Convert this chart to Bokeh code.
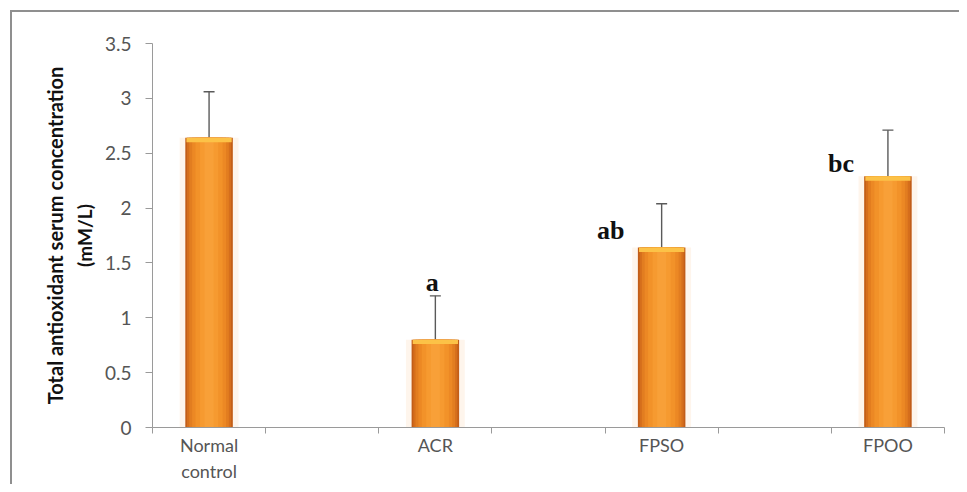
from bokeh.plotting import figure
from bokeh.models import (ColumnDataSource, Whisker, TeeHead, FixedTicker, Range1d,
                          LinearAxis, InlineStyleSheet)
from bokeh.core.properties import value
from bokeh.embed import file_html
from bokeh.resources import INLINE

categories = ["Normal\ncontrol", "ACR", "FPSO", "FPOO"]
means = [2.64, 0.80, 1.64, 2.29]
errors = [0.42, 0.40, 0.40, 0.42]
sig_labels = ["", "a", "ab", "bc"]
y_ticks = [0, 0.5, 1, 1.5, 2, 2.5, 3, 3.5]
y_tick_labels = ["0", "0.5", "1", "1.5", "2", "2.5", "3", "3.5"]

# category slots: each group occupies 2 slots (bar + empty gap), last gap dropped
xs = [2 * i + 0.5 for i in range(len(categories))]
n_slots = 2 * len(categories) - 1

p = figure(width=959, height=484, output_backend="svg", toolbar_location=None,
           x_range=Range1d(0, n_slots), y_range=Range1d(0, 3.5),
           min_border_left=152, min_border_right=15, min_border_top=43,
           min_border_bottom=56)
p.stylesheets = [InlineStyleSheet(css=(
    ":host::after { content: ''; position: absolute; left: 10px; top: 10px; "
    "right: 0px; bottom: 0px; border-top: 2px solid #8f8f8f; "
    "border-left: 2px solid #8f8f8f; pointer-events: none; z-index: 10; }"))]
p.outline_line_color = None
p.xgrid.visible = False
p.ygrid.visible = False

src = ColumnDataSource(dict(x=xs, top=means, upper=[m + e for m, e in zip(means, errors)],
                            rim=[m - 0.04 for m in means], lab=sig_labels))

# faint glow around the bars
p.vbar(x="x", top="top", width=0.52, source=src, fill_color="#FEF1E4", line_color=None, fill_alpha=0.7)
# cylindrical shading layers
shade = [(0.42, "#C25D18"), (0.39, "#D56E1C"), (0.35, "#E27D20"), (0.30, "#EC8824"),
         (0.24, "#F29229"), (0.16, "#F69A30"), (0.08, "#F8A038")]
for wdt, col in shade:
    p.vbar(x="x", top="top", width=wdt, source=src, fill_color=col, line_color=None)
# light rim at bar top
p.vbar(x="x", top="top", bottom="rim", width=0.40, source=src,
       fill_color="#FCC247", line_color=None)

w = Whisker(base="x", upper="upper", lower="top", source=src, dimension="height",
            line_color="#5a5a5a", line_width=1.4,
            upper_head=TeeHead(size=11, line_color="#5a5a5a", line_width=1.4),
            lower_head=None)
p.add_layout(w)

# significance letters
lab_x = [xs[1], xs[2], xs[3]]
lab_y = [means[1] + errors[1] + 0.12, means[2] + 0.16, means[3] + 0.12]
p.text(x=lab_x, y=lab_y, text=sig_labels[1:], text_font=value("Liberation Serif"),
       text_font_style="bold", text_font_size="26px", text_color="#111111",
       text_align="center", text_baseline="alphabetic",
       x_offset=[-3, -51, -47])

# x axis
xt = FixedTicker(ticks=xs, minor_ticks=list(range(n_slots + 1)))
p.xaxis.ticker = xt
p.xaxis.major_label_overrides = {x: c for x, c in zip(xs, categories)}
p.xaxis.major_tick_out = 0
p.xaxis.major_tick_in = 0
p.xaxis.minor_tick_out = 6
p.xaxis.minor_tick_in = 0
p.xaxis.minor_tick_line_color = "#9a9a9a"
p.xaxis.axis_line_color = "#9a9a9a"
p.xaxis.major_label_text_font = "Lato"
p.xaxis.major_label_text_font_size = "18px"
p.xaxis.major_label_text_color = "#555555"
p.xaxis.major_label_standoff = 0

# y axis
p.yaxis.ticker = FixedTicker(ticks=y_ticks)
p.yaxis.major_label_overrides = {t: l for t, l in zip(y_ticks, y_tick_labels)}
p.yaxis.minor_tick_line_color = None
p.yaxis.major_tick_out = 7
p.yaxis.major_tick_in = 0
p.yaxis.major_tick_line_color = "#9a9a9a"
p.yaxis.axis_line_color = "#9a9a9a"
p.yaxis.major_label_text_font = "Lato"
p.yaxis.major_label_text_font_size = "19px"
p.yaxis.major_label_text_color = "#555555"
p.yaxis.major_label_standoff = 14
p.yaxis.axis_label = "(mM/L)"
p.yaxis.axis_label_text_font = "Lato"
p.yaxis.axis_label_text_font_style = "bold"
p.yaxis.axis_label_text_font_size = "19px"
p.yaxis.axis_label_text_color = "#111111"
p.yaxis.axis_label_standoff = 6

title_axis = LinearAxis(axis_label="Total antioxidant serum concentration",
                        ticker=FixedTicker(ticks=[]), axis_line_color=None,
                        major_tick_line_color=None, minor_tick_line_color=None,
                        major_label_text_font_size="0px",
                        axis_label_text_font="Lato", axis_label_text_font_style="bold",
                        axis_label_text_font_size="20px", axis_label_text_color="#111111",
                        axis_label_standoff=3)
p.add_layout(title_axis, "left")

open("out.html", "w").write(file_html(p, INLINE))
